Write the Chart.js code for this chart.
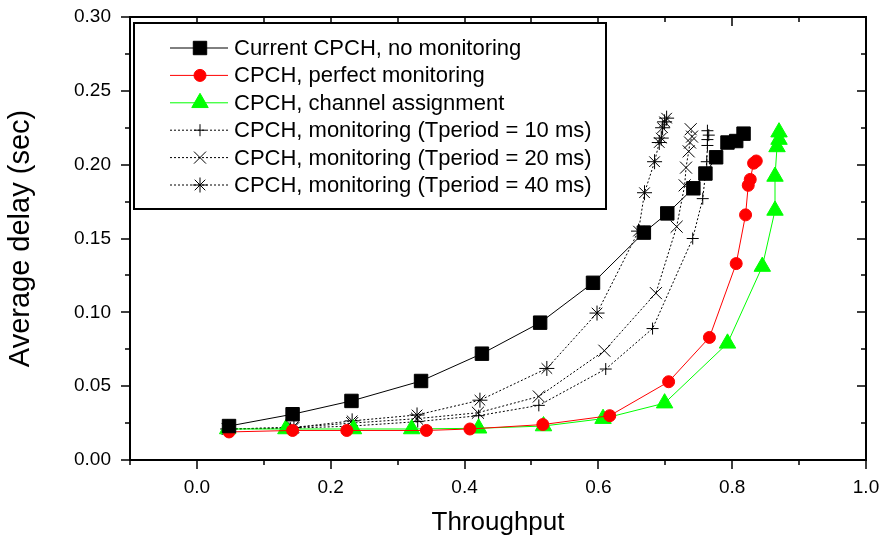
<!DOCTYPE html>
<html>
<head>
<meta charset="utf-8">
<script src="https://cdn.jsdelivr.net/npm/chart.js@4.4.0/dist/chart.umd.min.js"></script>
<style>
  body { margin: 0; background: #fff; }
  #delayChart { display: block; }
</style>
</head>
<body>
<canvas id="delayChart" width="880" height="542"></canvas>
<script>
// values
const currentX = [0.048, 0.143, 0.231, 0.335, 0.426, 0.513, 0.592, 0.668, 0.703, 0.742, 0.760, 0.776, 0.793, 0.806, 0.817];
const currentY = [0.023, 0.031, 0.040, 0.0535, 0.072, 0.093, 0.120, 0.154, 0.167, 0.184, 0.194, 0.205, 0.215, 0.216, 0.221];

const perfectX = [0.048, 0.143, 0.224, 0.343, 0.408, 0.517, 0.617, 0.705, 0.766, 0.806, 0.820, 0.824, 0.827, 0.832, 0.836];
const perfectY = [0.019, 0.020, 0.020, 0.020, 0.021, 0.024, 0.030, 0.053, 0.083, 0.133, 0.166, 0.186, 0.190, 0.201, 0.2025];

const assignX = [0.046, 0.133, 0.234, 0.321, 0.421, 0.518, 0.607, 0.699, 0.793, 0.845, 0.864, 0.864, 0.867, 0.870, 0.870];
const assignY = [0.021, 0.021, 0.021, 0.021, 0.0215, 0.023, 0.028, 0.0385, 0.079, 0.131, 0.169, 0.192, 0.212, 0.217, 0.222];

const mon10X = [0.046, 0.140, 0.232, 0.330, 0.421, 0.511, 0.611, 0.681, 0.741, 0.756, 0.762, 0.763, 0.763, 0.765, 0.763];
const mon10Y = [0.021, 0.0215, 0.023, 0.026, 0.030, 0.037, 0.0616, 0.089, 0.150, 0.177, 0.202, 0.213, 0.217, 0.220, 0.223];

const mon20X = [0.046, 0.143, 0.232, 0.329, 0.420, 0.511, 0.609, 0.686, 0.717, 0.729, 0.731, 0.735, 0.737, 0.740, 0.738];
const mon20Y = [0.021, 0.022, 0.025, 0.028, 0.032, 0.043, 0.074, 0.113, 0.158, 0.186, 0.198, 0.209, 0.215, 0.219, 0.224];

const mon40X = [0.046, 0.145, 0.232, 0.329, 0.423, 0.523, 0.598, 0.660, 0.669, 0.684, 0.691, 0.694, 0.696, 0.699, 0.702];
const mon40Y = [0.021, 0.022, 0.0265, 0.0305, 0.0405, 0.062, 0.0995, 0.155, 0.181, 0.202, 0.215, 0.218, 0.225, 0.229, 0.2315];

const seriesNames = [
    'Current CPCH, no monitoring',
    'CPCH, perfect monitoring',
    'CPCH, channel assignment',
    'CPCH, monitoring (Tperiod = 10 ms)',
    'CPCH, monitoring (Tperiod = 20 ms)',
    'CPCH, monitoring (Tperiod = 40 ms)'
];

// tick labels
const xMajorTicks = [0.0, 0.2, 0.4, 0.6, 0.8, 1.0];
const xMinorTicks = [-0.1, 0.1, 0.3, 0.5, 0.7, 0.9];
const yMajorTicks = [0.00, 0.05, 0.10, 0.15, 0.20, 0.25, 0.30];
const yMinorTicks = [0.025, 0.075, 0.125, 0.175, 0.225, 0.275];

function toPoints(xs, ys) {
    let pts = [];
    for (let i = 0; i < xs.length; i++) {
        pts.push({ x: xs[i], y: ys[i] });
    }
    return pts;
}

function makeSet(name, xs, ys, color, style, radius, dotted) {
    return {
        label: name,
        data: toPoints(xs, ys),
        showLine: true,
        borderColor: color,
        backgroundColor: color,
        borderWidth: 1,
        borderDash: dotted ? [2, 2] : [],
        pointStyle: style,
        pointRadius: radius,
        pointHoverRadius: radius,
        pointBackgroundColor: color,
        pointBorderColor: color,
        pointBorderWidth: 1
    };
}

const datasets = [
    makeSet(seriesNames[0], currentX, currentY, '#000000', 'rect', 9.5, false),
    makeSet(seriesNames[1], perfectX, perfectY, '#ff0000', 'circle', 6, false),
    makeSet(seriesNames[2], assignX, assignY, '#00ff00', 'triangle', 9.5, false),
    makeSet(seriesNames[3], mon10X, mon10Y, '#000000', 'cross', 6, true),
    makeSet(seriesNames[4], mon20X, mon20Y, '#000000', 'crossRot', 8.5, true),
    makeSet(seriesNames[5], mon40X, mon40Y, '#000000', 'star', 7.5, true)
];

// frame round the plot with major/minor ticks on all four sides
const framePlugin = {
    id: 'frame',
    afterDraw(chart) {
        const ctx = chart.ctx;
        const a = chart.chartArea;
        const xs = chart.scales.x;
        const ys = chart.scales.y;
        ctx.save();
        ctx.strokeStyle = '#000';
        ctx.lineWidth = 2;
        ctx.strokeRect(a.left, a.top, a.right - a.left, a.bottom - a.top);

        ctx.lineWidth = 1.5;
        ctx.beginPath();
        xMajorTicks.concat(xMinorTicks).forEach(function (v) {
            let px = Math.round(xs.getPixelForValue(v));
            let len = xMajorTicks.indexOf(v) >= 0 ? 9 : 5;
            ctx.moveTo(px, a.bottom);
            ctx.lineTo(px, a.bottom + len);
            ctx.moveTo(px, a.top);
            ctx.lineTo(px, a.top + len);
        });
        yMajorTicks.concat(yMinorTicks).forEach(function (v) {
            let py = Math.round(ys.getPixelForValue(v));
            let len = yMajorTicks.indexOf(v) >= 0 ? 9 : 5;
            ctx.moveTo(a.left, py);
            ctx.lineTo(a.left - len, py);
            ctx.moveTo(a.right, py);
            ctx.lineTo(a.right - len, py);
        });
        ctx.stroke();
        ctx.restore();
    }
};

// legend box inside the plot, upper left
const boxLegend = {
    id: 'boxLegend',
    afterDraw(chart) {
        const ctx = chart.ctx;
        const a = chart.chartArea;
        const left = a.left + 4;
        const top = a.top + 6;
        ctx.save();
        ctx.fillStyle = '#fff';
        ctx.fillRect(left, top, 472, 186);
        ctx.strokeStyle = '#000';
        ctx.lineWidth = 2;
        ctx.strokeRect(left, top, 472, 186);

        chart.data.datasets.forEach(function (ds, i) {
            let rowY = top + 25 + i * 27.4;
            ctx.strokeStyle = ds.borderColor;
            ctx.fillStyle = ds.backgroundColor;
            ctx.lineWidth = 1;
            ctx.setLineDash(ds.borderDash);
            ctx.beginPath();
            ctx.moveTo(left + 36, rowY);
            ctx.lineTo(left + 94, rowY);
            ctx.stroke();
            ctx.setLineDash([]);
            Chart.helpers.drawPoint(ctx, {
                pointStyle: ds.pointStyle,
                radius: ds.pointRadius,
                borderWidth: 1,
                rotation: 0
            }, left + 66, rowY);

            ctx.fillStyle = '#000';
            ctx.font = '22px "Liberation Sans", Arial, sans-serif';
            ctx.textBaseline = 'middle';
            ctx.fillText(ds.label, left + 100, rowY + 1);
        });
        ctx.restore();
    }
};

const ctx = document.getElementById('delayChart');

const delayChart = new Chart(ctx, {
    type: 'scatter',
    data: { datasets: datasets },
    options: {
        responsive: false,
        animation: false,
        devicePixelRatio: 1,
        layout: { padding: { top: 17, right: 14, left: 0, bottom: 0 } },
        plugins: {
            legend: { display: false },
            tooltip: { enabled: false }
        },
        scales: {
            x: {
                type: 'linear',
                min: -0.1,
                max: 1.0,
                afterBuildTicks: function (scale) {
                    scale.ticks = xMajorTicks.map(function (v) { return { value: v }; });
                },
                afterFit: function (scale) {
                    scale.height = 82;
                    // no extra room for the end labels, the layout padding handles it
                    scale.paddingLeft = 0;
                    scale.paddingRight = 0;
                },
                grid: { display: false, drawTicks: false },
                border: { display: false },
                ticks: {
                    color: '#000',
                    padding: 16,
                    maxRotation: 0,
                    font: { family: '"Liberation Sans", Arial, sans-serif', size: 19 },
                    callback: function (v) { return Number(v).toFixed(1); }
                },
                title: {
                    display: true,
                    text: 'Throughput',
                    color: '#000',
                    font: { family: '"Liberation Sans", Arial, sans-serif', size: 26 },
                    padding: { top: 0, bottom: 4 }
                }
            },
            y: {
                type: 'linear',
                min: 0,
                max: 0.30,
                afterBuildTicks: function (scale) {
                    scale.ticks = yMajorTicks.map(function (v) { return { value: v }; });
                },
                afterFit: function (scale) {
                    scale.width = 130;
                    scale.paddingTop = 0;
                    scale.paddingBottom = 0;
                },
                grid: { display: false, drawTicks: false },
                border: { display: false },
                ticks: {
                    color: '#000',
                    padding: 19,
                    font: { family: '"Liberation Sans", Arial, sans-serif', size: 19 },
                    callback: function (v) { return Number(v).toFixed(2); }
                },
                title: {
                    display: true,
                    text: 'Average delay (sec)',
                    color: '#000',
                    font: { family: '"Liberation Sans", Arial, sans-serif', size: 29 },
                    padding: { top: 4, bottom: 0 }
                }
            }
        }
    },
    plugins: [framePlugin, boxLegend]
});
</script>
</body>
</html>
